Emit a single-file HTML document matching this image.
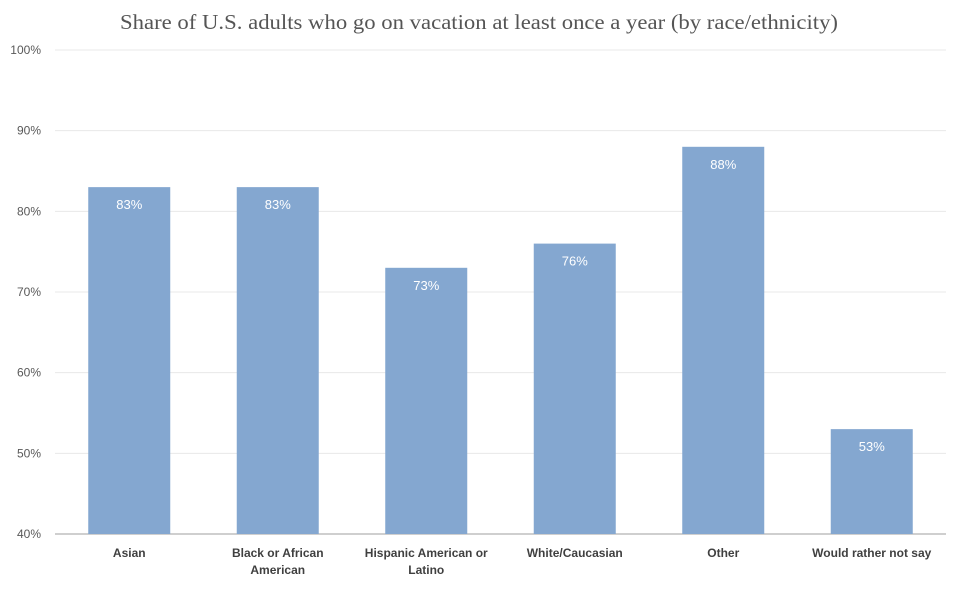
<!DOCTYPE html>
<html><head><meta charset="utf-8"><style>
body{margin:0;background:#fff;}
svg text{font-family:"Liberation Sans",sans-serif;}
</style></head><body>
<svg width="960" height="587" xmlns="http://www.w3.org/2000/svg">
<text x="120" y="29" textLength="718" lengthAdjust="spacingAndGlyphs" font-size="21" fill="#555" style="font-family:'Liberation Serif',serif">Share of U.S. adults who go on vacation at least once a year (by race/ethnicity)</text>
<g id="grid"></g><g id="bars"></g><g id="xl"></g>
</svg>
<script>
const categories=[["Asian"],["Black or African","American"],["Hispanic American or","Latino"],["White/Caucasian"],["Other"],["Would rather not say"]];
const values=[83,83,73,76,88,53];
const ticks=[40,50,60,70,80,90,100];
const ns="http://www.w3.org/2000/svg";
const x0=55,x1=946,yMin=40,yMax=100,py0=534,py1=50;
const y=v=>py0-(v-yMin)/(yMax-yMin)*(py0-py1);
const band=(x1-x0)/categories.length;
function mk(t,a,p){const e=document.createElementNS(ns,t);for(const k in a)e.setAttribute(k,a[k]);p.appendChild(e);return e;}
const g=document.getElementById('grid'),b=document.getElementById('bars'),xl=document.getElementById('xl');
ticks.forEach(t=>{
 if(t>yMin){const l=mk('line',{x1:x0,x2:x1,y1:y(t),y2:y(t),stroke:'#e8e8e8','stroke-width':1},g);
 
 }
 const tx=mk('text',{x:41,y:y(t)+4,'text-anchor':'end','font-size':12,fill:'#595959'},g);tx.textContent=t+'%';
 
 
});
values.forEach((v,i)=>{
 const cx=x0+band*(i+0.5),w=82;
 const r=mk('rect',{x:cx-w/2,y:y(v),width:w,height:py0-y(v),fill:'#84a7d0'},b);
 
 
 const t=mk('text',{x:cx,y:y(v)+22,'text-anchor':'middle','font-size':13,fill:'#fff'},b);t.textContent=v+'%';
 
 
 categories[i].forEach((ln,j)=>{
  const c=mk('text',{x:cx,y:557+j*17,'text-anchor':'middle','font-size':12,'font-weight':'bold',fill:'#404040'},xl);c.textContent=ln;
  
  
 });
});
const ax=mk('line',{x1:x0,x2:x1,y1:py0,y2:py0,stroke:'#bfbfbf','stroke-width':1.5},g);


</script>
</body></html>
